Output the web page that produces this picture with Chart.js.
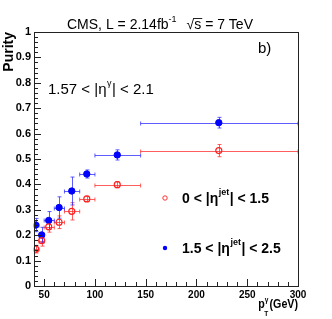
<!DOCTYPE html>
<html lang="en">
<head>
<meta charset="UTF-8">
<title>Purity vs pT</title>
<script src="https://cdn.jsdelivr.net/npm/chart.js"></script>
<style>
  body { margin: 0; background: #fff; }
  #wrap { width: 332px; height: 319px; position: relative; }
</style>
</head>
<body>
<div id="wrap"><canvas id="grafico"></canvas></div>
<script>
// pT bins (GeV): mean, low edge, high edge
const ptMean = [41.7, 47.6, 54.5, 64.7, 77.2, 92, 122, 222];
const ptLow  = [40, 45, 50, 60, 70, 85, 100, 145];
const ptHigh = [45, 50, 60, 70, 85, 100, 145, 300];

// 0 < |eta jet| < 1.5 (red, open)
const purityCentral = [0.145, 0.179, 0.233, 0.251, 0.294, 0.343, 0.399, 0.533];
const errCentral    = [0.015, 0.022, 0.021, 0.025, 0.034, 0.010, 0.012, 0.024];

// 1.5 < |eta jet| < 2.5 (blue, filled)
const purityForward = [0.240, 0.201, 0.258, 0.309, 0.374, 0.441, 0.516, 0.643];
const errForward    = [0.026, 0.030, 0.035, 0.042, 0.055, 0.016, 0.020, 0.021];

const xTicks = [50, 100, 150, 200, 250, 300];
const yTicks = [0, 0.1, 0.2, 0.3, 0.4, 0.5, 0.6, 0.7, 0.8, 0.9, 1];

const FONT = '"Liberation Sans", Arial, sans-serif';

function pontos(purity) {
    return ptMean.map((x, i) => ({ x: x, y: purity[i] }));
}

// error bars drawn through the scales
const errorBars = {
    id: 'errorBars',
    beforeDatasetsDraw(chart) {
        const ctx = chart.ctx;
        const xs = chart.scales.x, ys = chart.scales.y;
        const sets = [
            { p: purityCentral, e: errCentral, c: 'rgba(255,40,40,0.75)' },
            { p: purityForward, e: errForward, c: 'rgba(40,40,255,0.75)' }
        ];
        ctx.save();
        ctx.lineWidth = 1;
        sets.forEach(s => {
            ctx.strokeStyle = s.c;
            ptMean.forEach((m, i) => {
                const x0 = xs.getPixelForValue(ptLow[i]);
                const x1 = xs.getPixelForValue(ptHigh[i]);
                const xm = xs.getPixelForValue(m);
                const y = Math.round(ys.getPixelForValue(s.p[i])) + 0.5;
                const ya = ys.getPixelForValue(s.p[i] + s.e[i]);
                const yb = ys.getPixelForValue(s.p[i] - s.e[i]);
                const xr = Math.round(xm) + 0.5;
                ctx.beginPath();
                ctx.moveTo(x0, y); ctx.lineTo(x1, y);
                ctx.moveTo(x0, y - 2); ctx.lineTo(x0, y + 2);
                ctx.moveTo(x1, y - 2); ctx.lineTo(x1, y + 2);
                ctx.moveTo(xr, ya); ctx.lineTo(xr, yb);
                ctx.moveTo(xr - 2, ya); ctx.lineTo(xr + 2, ya);
                ctx.moveTo(xr - 2, yb); ctx.lineTo(xr + 2, yb);
                ctx.stroke();
            });
        });
        ctx.restore();
    }
};

// frame, inside ticks and all the text
const moldura = {
    id: 'moldura',
    afterDraw(chart) {
        const ctx = chart.ctx;
        const a = chart.chartArea;
        const xs = chart.scales.x, ys = chart.scales.y;
        ctx.save();
        ctx.strokeStyle = '#222';
        ctx.lineWidth = 1;
        ctx.strokeRect(Math.round(a.left) + 0.5, Math.round(a.top) + 0.5,
                       Math.round(a.right - a.left), Math.round(a.bottom - a.top));

        // ticks
        ctx.beginPath();
        for (let v = 40; v <= 300; v += 10) {
            const x = Math.round(xs.getPixelForValue(v)) + 0.5;
            const len = v % 50 === 0 ? 7 : 4;
            ctx.moveTo(x, a.bottom); ctx.lineTo(x, a.bottom - len);
        }
        for (let k = 0; k <= 50; k++) {
            const y = Math.round(ys.getPixelForValue(k * 0.02)) + 0.5;
            const len = k % 5 === 0 ? 7 : 4;
            ctx.moveTo(a.left, y); ctx.lineTo(a.left + len, y);
        }
        ctx.stroke();

        ctx.fillStyle = '#000';
        ctx.textBaseline = 'alphabetic';

        // x tick labels, all on one line
        ctx.textAlign = 'center';
        ctx.font = 'bold 10px ' + FONT;
        xTicks.forEach(v => ctx.fillText(String(v), xs.getPixelForValue(v), 298));
        ctx.textAlign = 'left';

        // title
        const f = '14px ' + FONT;
        const fs = '9px ' + FONT;
        ctx.font = f;
        const t1 = 'CMS, L = 2.14fb';
        const t2 = '\u221As = 7 TeV';
        ctx.font = fs;
        const wSup = ctx.measureText('-1').width;
        ctx.font = f;
        const wTot = ctx.measureText(t1).width + wSup + 10 + ctx.measureText(t2).width;
        let x = 160 - wTot / 2;
        ctx.fillText(t1, x, 29);
        x += ctx.measureText(t1).width;
        ctx.font = fs;
        ctx.fillText('-1', x, 22);
        x += wSup + 10;
        ctx.font = f;
        ctx.fillText(t2, x, 29);
        const wRoot = ctx.measureText('\u221A').width;
        const wS = ctx.measureText('s').width;
        ctx.beginPath();
        ctx.moveTo(x + wRoot - 1, 18.5); ctx.lineTo(x + wRoot + wS + 1, 18.5);
        ctx.stroke();

        // b)
        ctx.font = '15px ' + FONT;
        ctx.fillText('b)', 258, 53);

        // eta range
        ctx.font = '15px ' + FONT;
        x = 48;
        ctx.fillText('1.57 < |\u03B7', x, 94);
        x += ctx.measureText('1.57 < |\u03B7').width;
        ctx.font = '9px ' + FONT;
        ctx.fillText('\u03B3', x + 0.5, 86);
        x += ctx.measureText('\u03B3').width + 1;
        ctx.font = '15px ' + FONT;
        ctx.fillText('| < 2.1', x, 94);

        // legend
        const legenda = [
            { a: '0 < |\u03B7', b: '| < 1.5', y: 203, cor: '#ff3030', cheio: false },
            { a: '1.5 < |\u03B7', b: '| < 2.5', y: 253, cor: '#0000ff', cheio: true }
        ];
        legenda.forEach(l => {
            ctx.beginPath();
            ctx.arc(165, l.y - 5, 2.2, 0, Math.PI * 2);
            if (l.cheio) { ctx.fillStyle = l.cor; ctx.fill(); }
            else { ctx.strokeStyle = l.cor; ctx.stroke(); }
            ctx.fillStyle = '#000';
            ctx.font = 'bold 14px ' + FONT;
            let lx = 182;
            ctx.fillText(l.a, lx, l.y);
            lx += ctx.measureText(l.a).width;
            ctx.font = 'bold 9px ' + FONT;
            ctx.fillText('jet', lx + 0.5, l.y - 8);
            lx += ctx.measureText('jet').width + 1;
            ctx.font = 'bold 14px ' + FONT;
            ctx.fillText(l.b, lx, l.y);
        });

        // x title (narrow, as in the original)
        ctx.save();
        ctx.translate(298, 0);
        ctx.scale(0.82, 1);
        ctx.font = 'bold 13px ' + FONT;
        const wp = ctx.measureText('p').width;
        const wg = ctx.measureText('(GeV)').width;
        ctx.font = 'bold 8px ' + FONT;
        const wt = ctx.measureText('T').width;
        let px = -(wg + wt + 1 + wp);
        ctx.font = 'bold 13px ' + FONT;
        ctx.fillText('p', px, 308);
        ctx.font = 'bold 8px ' + FONT;
        ctx.fillText('T', px + wp - 0.5, 316);
        ctx.fillText('\u03B3', px + wp, 302);
        ctx.font = 'bold 13px ' + FONT;
        ctx.fillText('(GeV)', px + wp + wt + 1, 308);
        ctx.restore();

        // y title
        ctx.translate(13, 32);
        ctx.rotate(-Math.PI / 2);
        ctx.textAlign = 'right';
        ctx.font = 'bold 14px ' + FONT;
        ctx.fillText('Purity', 0, 0);
        ctx.restore();
    }
};

new Chart(document.getElementById('grafico'), {
    type: 'scatter',
    data: {
        datasets: [
            {
                label: '0 < |eta jet| < 1.5',
                data: pontos(purityCentral),
                pointStyle: 'circle',
                pointRadius: 3,
                borderColor: '#ff2020',
                backgroundColor: 'rgba(0,0,0,0)',
                borderWidth: 1.2
            },
            {
                label: '1.5 < |eta jet| < 2.5',
                data: pontos(purityForward),
                pointStyle: 'circle',
                pointRadius: 3.2,
                borderColor: '#0000ff',
                backgroundColor: '#0000ff',
                borderWidth: 1
            }
        ]
    },
    options: {
        responsive: true,
        maintainAspectRatio: false,
        animation: false,
        events: [],
        layout: { padding: { left: 0, right: 34, top: 32, bottom: 0 } },
        plugins: {
            legend: { display: false },
            tooltip: { enabled: false }
        },
        scales: {
            x: {
                type: 'linear',
                min: 40,
                max: 300,
                afterBuildTicks: s => { s.ticks = xTicks.map(v => ({ value: v })); },
                afterFit: s => { s.height = 33; },
                grid: { display: false, drawTicks: false },
                border: { display: false },
                ticks: { display: false }
            },
            y: {
                type: 'linear',
                min: 0,
                max: 1,
                afterBuildTicks: s => { s.ticks = yTicks.map(v => ({ value: v })); },
                afterFit: s => { s.width = 34; },
                grid: { display: false, drawTicks: false },
                border: { display: false },
                ticks: {
                    padding: 3,
                    color: '#000',
                    font: { family: FONT, size: 11, weight: 'bold' },
                    callback: v => String(Math.round(v * 10) / 10)
                }
            }
        }
    },
    plugins: [errorBars, moldura]
});
</script>
</body>
</html>
